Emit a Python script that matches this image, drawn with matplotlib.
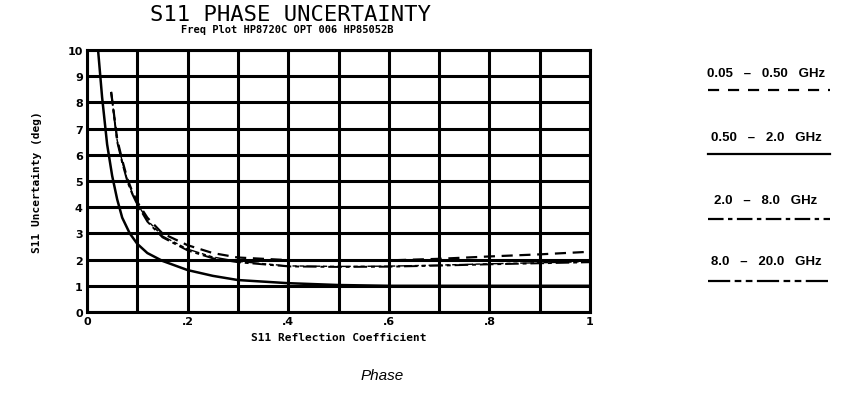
import matplotlib
matplotlib.use("Agg")
import matplotlib.pyplot as plt
import numpy as np

# Data
x_solid = [0.022, 0.03, 0.04, 0.05, 0.06, 0.07, 0.085, 0.1, 0.12, 0.15, 0.2, 0.25, 0.3, 0.4, 0.5, 0.6, 0.7, 0.8, 0.9, 1.0]
y_solid = [10.0, 8.2, 6.4, 5.2, 4.3, 3.6, 3.0, 2.6, 2.25, 1.95, 1.6, 1.38, 1.22, 1.1, 1.03, 1.0, 1.0, 1.0, 1.0, 1.0]

x_upper = [0.048, 0.06, 0.07, 0.08, 0.09, 0.1, 0.12, 0.15, 0.2, 0.25, 0.3, 0.4, 0.5, 0.6, 0.7, 0.8, 0.9, 1.0]
y_upper = [8.4, 6.6, 5.8, 5.1, 4.6, 4.2, 3.6, 3.0, 2.55, 2.25, 2.08, 1.98, 1.97, 1.97, 2.03, 2.12, 2.2, 2.3]

x_lower = [0.048, 0.06, 0.07, 0.08, 0.09, 0.1, 0.12, 0.15, 0.2, 0.25, 0.3, 0.4, 0.5, 0.6, 0.7, 0.8, 0.9, 1.0]
y_lower = [8.4, 6.5, 5.7, 5.0, 4.5, 4.1, 3.45, 2.85, 2.35, 2.05, 1.9, 1.74, 1.72, 1.73, 1.77, 1.82, 1.86, 1.9]

y_lower2 = [8.4, 6.55, 5.75, 5.05, 4.55, 4.15, 3.5, 2.9, 2.4, 2.1, 1.93, 1.76, 1.74, 1.75, 1.79, 1.84, 1.88, 1.92]

x_ticks = [0, 0.2, 0.4, 0.6, 0.8, 1.0]
x_tick_labels = ["0", ".2", ".4", ".6", ".8", "1"]
y_ticks = list(range(0, 11))

legend_labels = ["0.05   \u2013   0.50   GHz", "0.50   \u2013   2.0   GHz", "2.0   \u2013   8.0   GHz", "8.0   \u2013   20.0   GHz"]

fig = plt.figure(figsize=(8.48, 4.02), dpi=100)
ax = fig.add_axes([87/848, 1-313/402, (590-87)/848, (313-51)/402])

ax.set_xlim(0, 1)
ax.set_ylim(0, 10)
ax.set_xticks(x_ticks)
ax.set_xticklabels(x_tick_labels, fontsize=8, fontweight='bold', family='DejaVu Sans')
ax.set_yticks(y_ticks)
ax.set_yticklabels([str(v) for v in y_ticks], fontsize=8, fontweight='bold', family='DejaVu Sans')
ax.set_xticks(np.arange(0, 1.01, 0.1), minor=True)
ax.tick_params(which='both', length=0, pad=3)
ax.grid(True, which='both', color='black', linewidth=2.2)
for s in ax.spines.values():
    s.set_linewidth(2.2)

ax.plot(x_solid, y_solid, color='black', lw=1.8, solid_capstyle='butt')
ax.plot(x_upper, y_upper, color='black', lw=1.6, dashes=(5, 3))
ax.plot(x_lower, y_lower, color='black', lw=1.4, dashes=(7, 2, 2, 2))
ax.plot(x_lower, y_lower2, color='black', lw=1.0, dashes=(10, 2, 3, 2, 3, 2))

ax.set_xlabel("S11 Reflection Coefficient", fontsize=8, fontweight='bold', family='DejaVu Sans Mono', labelpad=4)
ax.set_ylabel("S11 Uncertainty (deg)", fontsize=8, fontweight='bold', family='DejaVu Sans Mono', labelpad=18)

fig.text(290/848, 1-15/402, "S11 PHASE UNCERTAINTY", ha='center', va='center', fontsize=16, family='DejaVu Sans Mono')
fig.text(287/848, 1-30/402, "Freq Plot HP8720C OPT 006 HP85052B", ha='center', va='center', fontsize=7.5, fontweight='bold', family='DejaVu Sans Mono')
fig.text(382/848, 1-376/402, "Phase", ha='center', va='center', fontsize=11, style='italic', family='Liberation Sans')

styles = [dict(dashes=(5, 4)), dict(), dict(dashes=(7, 2, 2, 2)), dict(dashes=(10, 2, 3, 2, 3, 2))]
text_y = [74, 138, 201, 262]
line_y = [91, 155, 220, 282]
for lab, ty, ly, st in zip(legend_labels, text_y, line_y, styles):
    fig.text(766/848, 1-ty/402, lab, ha='center', va='center', fontsize=9.5, fontweight='bold', family='Liberation Sans')
    fig.add_artist(plt.Line2D([708/848, 830/848], [1-ly/402, 1-ly/402], color='black', lw=1.6, transform=fig.transFigure, **st))

fig.savefig("out.png", dpi=100)
